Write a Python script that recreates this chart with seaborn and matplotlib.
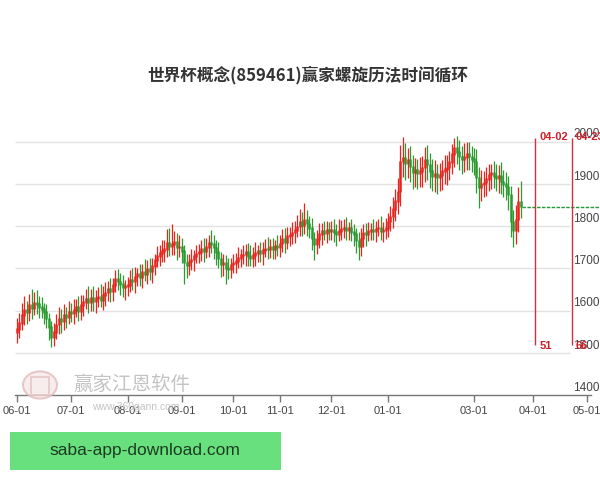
import numpy as np
import pandas as pd
import matplotlib
matplotlib.use("Agg")
import matplotlib.pyplot as plt
import seaborn as sns
from matplotlib.patches import Circle, Rectangle

# closes per trading day, month by month
close_jun = [1555, 1570, 1588, 1600, 1596, 1612, 1605, 1618, 1614, 1608, 1602, 1595, 1580, 1560, 1535, 1548, 1566, 1579, 1574, 1588, 1583, 1596]
close_jul = [1592, 1601, 1607, 1598, 1612, 1620, 1626, 1618, 1630, 1622, 1628, 1631, 1624, 1636, 1642, 1650, 1645, 1660, 1673, 1668, 1662, 1655, 1657]
close_aug = [1660, 1672, 1668, 1680, 1685, 1678, 1690, 1686, 1697, 1692, 1705, 1718, 1728, 1735, 1740, 1744, 1760, 1752, 1756, 1762, 1748, 1751]
close_sep = [1740, 1713, 1706, 1715, 1720, 1728, 1734, 1738, 1744, 1740, 1750, 1760, 1756, 1748, 1737, 1722, 1709, 1712, 1700, 1697, 1708]
close_oct = [1712, 1716, 1724, 1730, 1732, 1738, 1728, 1722, 1730, 1736, 1740, 1735, 1742, 1746, 1744, 1750, 1745, 1752, 1750]
close_nov = [1758, 1768, 1762, 1775, 1778, 1784, 1790, 1798, 1808, 1802, 1815, 1805, 1794, 1770, 1756, 1768, 1780, 1787, 1782, 1790, 1786]
close_dec = [1791, 1785, 1780, 1788, 1792, 1796, 1790, 1794, 1785, 1780, 1765, 1751, 1770, 1784, 1780, 1788, 1791, 1786, 1793, 1796, 1788, 1790, 1795]
close_janfeb = [1810, 1822, 1840, 1858, 1881, 1952, 1960, 1948, 1955, 1940, 1926, 1932, 1925, 1930, 1938, 1957, 1945, 1929,
                1917, 1922, 1915, 1920, 1929, 1934, 1938, 1950, 1969, 1985, 1975, 1964, 1958, 1962, 1970, 1964, 1958]
close_mar = [1952, 1914, 1891, 1898, 1902, 1910, 1921, 1925, 1918, 1912, 1918, 1905, 1898, 1893, 1874, 1810, 1790, 1815, 1857, 1846]

# upper / lower shadow lengths
up_wick = [28, 24, 30, 34, 22, 28, 38, 26, 30, 20, 24, 16, 20, 14, 16, 22, 26, 30, 24, 28, 20, 26,
           22, 26, 20, 28, 24, 16, 26, 32, 22, 28, 20, 24, 32, 22, 26, 20, 28, 16, 22, 26, 20, 22, 16,
           20, 24, 28, 22, 16, 26, 20, 32, 22, 28, 20, 16, 24, 20, 28, 22, 32, 36, 50, 26, 22, 28,
           20, 16, 22, 20, 26, 16, 22, 20, 24, 28, 22, 20, 30, 22, 20, 26, 16, 22, 20, 24, 16,
           22, 20, 26, 16, 24, 20, 22, 28, 20, 26, 16, 22, 20, 24, 28, 20, 22, 16, 26,
           20, 24, 28, 22, 20, 26, 22, 28, 32, 26, 40, 22, 20, 26, 16, 22, 28, 20, 24, 22, 20,
           22, 26, 20, 28, 22, 20, 26, 16, 22, 20, 16, 22, 26, 20, 24, 22, 16, 26, 20, 22, 28, 20, 24,
           22, 26, 28, 30, 34, 40, 52, 36, 30, 34, 28, 30, 26, 34, 28, 30, 36, 28, 30, 34, 26, 30, 28, 34, 30, 28, 26, 24, 28, 30, 26, 34, 28, 30, 26,
           28, 30, 26, 34, 28, 30, 26, 22, 28, 30, 26, 34, 28, 30, 26, 22, 28, 34, 36, 50]
dn_wick = [24, 20, 16, 22, 28, 20, 24, 16, 22, 26, 20, 28, 22, 30, 22, 20, 16, 22, 26, 20, 24, 16,
           20, 24, 16, 22, 20, 26, 16, 24, 20, 22, 28, 20, 16, 22, 26, 20, 24, 22, 16, 20, 26, 22, 30,
           22, 16, 20, 26, 22, 20, 24, 16, 22, 20, 26, 20, 16, 22, 20, 26, 16, 22, 20, 24, 28, 22,
           28, 50, 30, 22, 20, 26, 16, 22, 20, 24, 16, 22, 20, 26, 28, 22, 30, 26, 36, 22, 20,
           20, 24, 16, 22, 20, 26, 22, 16, 20, 24, 22, 20, 26, 16, 22, 20, 24, 22, 20,
           22, 20, 26, 16, 22, 20, 24, 16, 22, 26, 20, 28, 22, 26, 36, 22, 20, 24, 16, 22, 20,
           20, 22, 26, 16, 22, 20, 24, 22, 20, 26, 28, 32, 22, 20, 26, 16, 22, 20, 24, 16, 22, 26, 20,
           20, 22, 26, 28, 30, 34, 36, 38, 34, 36, 38, 34, 36, 32, 38, 34, 36, 38, 34, 36, 38, 32, 34, 30, 36, 28, 26, 30, 28, 32, 34, 30, 28, 32, 30,
           30, 36, 48, 32, 28, 30, 26, 32, 28, 30, 34, 28, 30, 32, 36, 36, 40, 32, 28, 26]

first_open = 1548

month_idx = [0, 22, 45, 67, 88, 107, 128, 151, 186, 210, 232]
month_labels = ['06-01', '07-01', '08-01', '09-01', '10-01', '11-01', '12-01', '01-01', '03-01', '04-01', '05-01']
price_ticks = [1400, 1500, 1600, 1700, 1800, 1900, 2000]

cycle_idx = [211, 226]
cycle_dates = ['04-02', '04-23']
cycle_counts = ['51', '66']
last_price = 1846

title = '世界杯概念(859461)赢家螺旋历法时间循环'

closes = close_jun + close_jul + close_aug + close_sep + close_oct + close_nov + close_dec + close_janfeb + close_mar
df = pd.DataFrame({'close': closes})
df['idx'] = np.arange(len(df))
df['open'] = [first_open] + closes[:-1]
df['high'] = df[['open', 'close']].max(axis=1) + np.array(up_wick)
df['low'] = df[['open', 'close']].min(axis=1) - np.array(dn_wick)
df['up'] = df['close'] >= df['open']

sns.set_theme(style='white')
plt.rcParams['font.family'] = ['Liberation Sans', 'DejaVu Sans']

fig = plt.figure(figsize=(6, 4.8), dpi=100)
ax = fig.add_axes([15 / 600, 1 - 395 / 480, 585 / 600, 265 / 480])
x_left = -2 / 2.457
x_right = 583 / 2.457
ax.set_xlim(x_left, x_right)
ax.set_ylim(1400, 2027.6)

RED = '#e8241e'
GREEN = '#2c9a30'

# grid + right side price labels
for p in price_ticks[1:]:
    ax.hlines(p, x_left, 225, color='#e2e2e2', lw=1, zorder=0)
for p in price_ticks:
    ax.text(x_right - 0.2, p + 3, str(p), ha='right', va='bottom', fontsize=8.5, color='#444444')

# candles
for is_up, color in [(True, RED), (False, GREEN)]:
    sub = df[df['up'] == is_up]
    ax.vlines(sub['idx'], sub['low'], sub['high'], color=color, lw=0.9, zorder=2)
    lo = sub[['open', 'close']].min(axis=1) - 1
    hi = sub[['open', 'close']].max(axis=1) + 3
    ax.vlines(sub['idx'], lo, hi, color=color, lw=1.8, zorder=3)

# last price dashed line
ax.hlines(last_price, df['idx'].iloc[-1] + 0.5, x_right, color='#1e9a36', lw=1.0,
          linestyles=(0, (2.5, 1)), zorder=2)

# time cycle lines
for xi, d, c in zip(cycle_idx, cycle_dates, cycle_counts):
    ax.vlines(xi, 1518, 2008, color='#d2303a', lw=1, zorder=4)
    ax.text(xi + 1.5, 2010, d, ha='left', va='center', fontsize=8, color='#cc1f2a', fontweight='bold', zorder=5)
    ax.text(xi + 1.5, 1515, c, ha='left', va='center', fontsize=8, color='#cc1f2a', fontweight='bold', zorder=5)

# x axis
sns.despine(ax=ax, left=True, right=True, top=True)
ax.spines['bottom'].set_color('#777777')
ax.spines['bottom'].set_linewidth(1)
ax.spines['bottom'].set_bounds(x_left, 233.5)
ax.set_xticks(month_idx)
ax.set_xticklabels(month_labels, fontsize=8, color='#444444')
ax.tick_params(axis='x', direction='out', length=5, width=1, color='#777777', pad=3, bottom=True)
ax.set_yticks([])
ax.grid(False)

# watermark
fig.patches.append(Circle((40 / 600, 1 - 385 / 480), 17 / 600, transform=fig.transFigure,
                          facecolor='#f6e9e9', edgecolor='#e2bcbc', lw=1.5, alpha=0.8))
fig.patches.append(Rectangle((31 / 600, 1 - 395 / 480), 18 / 600, 18 / 480, transform=fig.transFigure,
                             facecolor='none', edgecolor='#e2bcbc', lw=1.2, alpha=0.8))
fig.text(73 / 600, 1 - 384 / 480, '赢家江恩软件', fontsize=14, color='#bdbdbd', va='center', ha='left',
         family=['Noto Sans CJK SC', 'DejaVu Sans'], alpha=0.9)
fig.text(92 / 600, 1 - 407 / 480, 'www.360gann.com', fontsize=7.5, color='#c4c4c4', va='center', ha='left')

# title
fig.text(308 / 600, 1 - 75 / 480, title, ha='center', va='center', fontsize=12, fontweight='bold',
         color='#333333', family=['Noto Sans CJK SC', 'DejaVu Sans'])

# green banner
fig.patches.append(Rectangle((10 / 600, 1 - 470 / 480), 271 / 600, 38 / 480, transform=fig.transFigure,
                             facecolor='#67e07d', edgecolor='none'))
fig.text(145 / 600, 1 - 451 / 480, 'saba-app-download.com', ha='center', va='center', fontsize=12.5,
         color='#1d3b22', family=['Liberation Sans', 'DejaVu Sans'])

fig.savefig('out.png', dpi=100)
